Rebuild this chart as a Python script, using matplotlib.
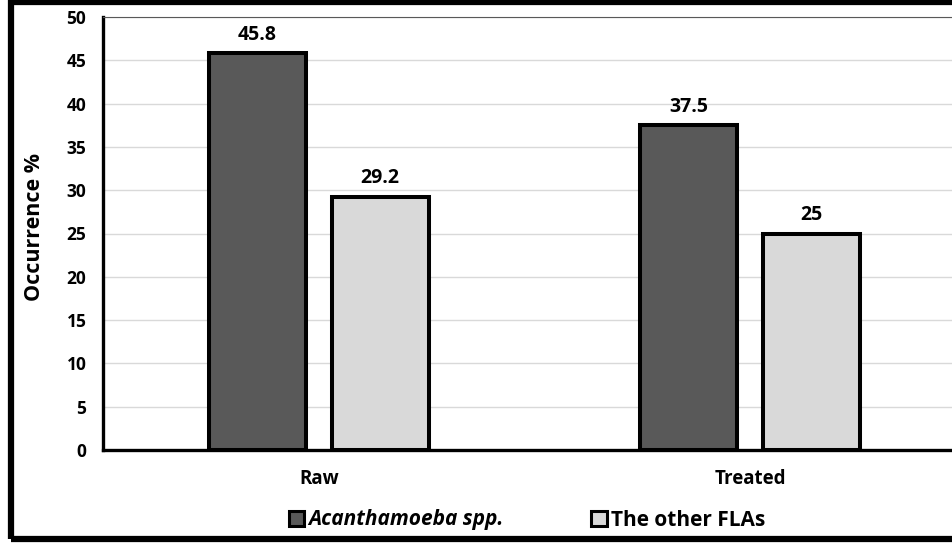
import matplotlib.pyplot as plt
import numpy as np
from matplotlib.patches import Rectangle, Patch

plt.rcParams['font.family'] = ['Open Sans', 'DejaVu Sans']
plt.rcParams['font.weight'] = 'bold'

# data
groups = ['Raw', 'Treated']
acanth = [45.8, 37.5]
other = [29.2, 25]
acanth_lbl = ['45.8', '37.5']
other_lbl = ['29.2', '25']
yticks = [0, 5, 10, 15, 20, 25, 30, 35, 40, 45, 50]

fig = plt.figure(figsize=(9.53, 5.43), dpi=100)
ax = fig.add_axes([103/953, 93/543, 863/953, 433/543])

x = np.arange(len(groups))
w = 0.225
off = 0.1425
b1 = ax.bar(x - off, acanth, w, color='#595959', edgecolor='black', linewidth=2.9, zorder=3)
b2 = ax.bar(x + off, other, w, color='#d9d9d9', edgecolor='black', linewidth=2.9, zorder=3)

for rect, t in zip(list(b1) + list(b2), acanth_lbl + other_lbl):
    ax.text(rect.get_x() + rect.get_width()/2, rect.get_height() + 1.0, t,
            ha='center', va='bottom', fontsize=14, fontweight='bold')

ax.set_xlim(-0.5, 1.5)
ax.set_ylim(0, 50)
ax.set_yticks(yticks)
ax.set_yticklabels([str(v) for v in yticks], fontsize=12.5, fontweight='bold')
ax.set_xticks(x)
ax.set_xticklabels(groups, fontsize=13.5, fontweight='bold')
ax.tick_params(length=0)
ax.tick_params(axis='y', pad=12)
ax.tick_params(axis='x', pad=14)
ax.grid(axis='y', color='#d9d9d9', linewidth=1, zorder=0)
ax.set_axisbelow(True)

ax.spines['right'].set_visible(False)
ax.spines['top'].set_color('#595959')
ax.spines['top'].set_linewidth(0.8)
ax.spines['left'].set_linewidth(2.4)
ax.spines['bottom'].set_linewidth(2.4)

fig.text(35/953, 1 - 227/543, 'Occurrence %', rotation=90, ha='center', va='center',
         fontsize=15.5, fontweight='bold')

handles = [Patch(facecolor='#595959', edgecolor='black', linewidth=2.2),
           Patch(facecolor='#d9d9d9', edgecolor='black', linewidth=2.2)]
leg = fig.legend(handles, ['Acanthamoeba spp.', 'The other FLAs'], ncol=2,
                 loc='center', bbox_to_anchor=(527/953, 1 - 520/543), frameon=False,
                 prop={'size': 15, 'weight': 'bold'}, handlelength=0.75, handleheight=0.75,
                 handletextpad=0.2, columnspacing=4.2)
leg.get_texts()[0].set_style('italic')

# outer frame
fig.patches.append(Rectangle((11/953, 4/543), 1.2, 537/543, transform=fig.transFigure,
                             fill=False, edgecolor='black', linewidth=4.5, clip_on=False))

fig.savefig('out.png', dpi=100)
